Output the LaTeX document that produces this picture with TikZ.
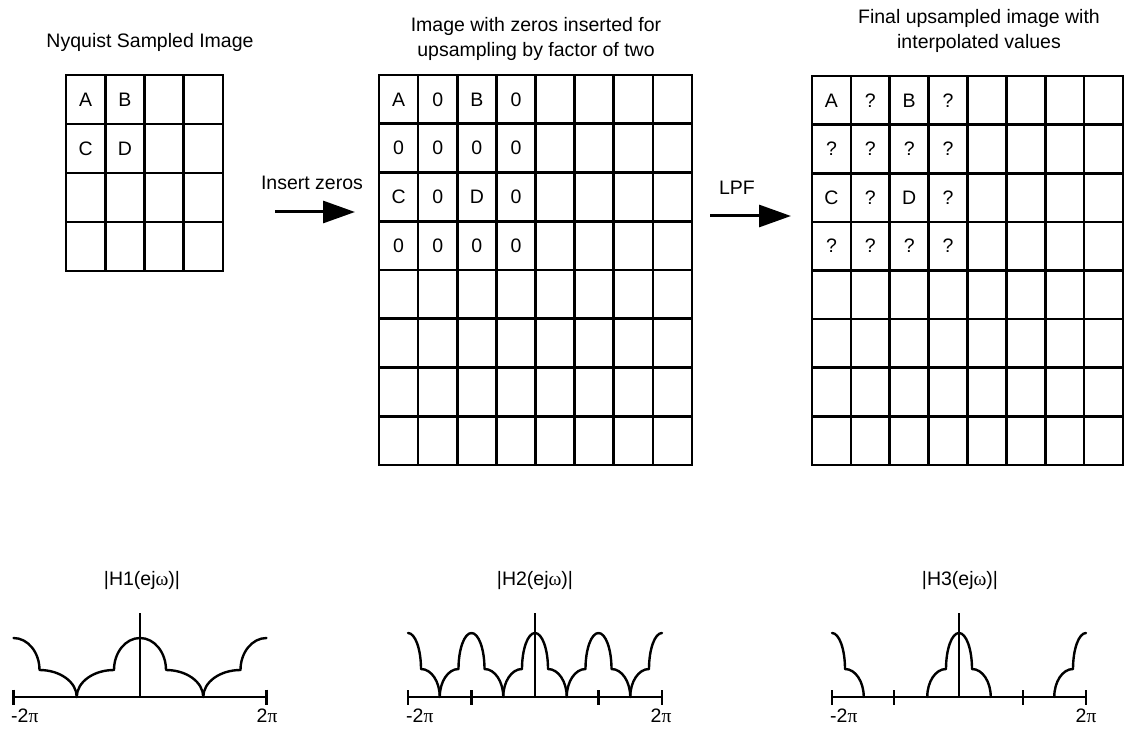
\documentclass[tikz,border=0pt]{standalone}
\usepackage{fontspec}
\setmainfont{Liberation Sans}
\newfontfamily\grk{Liberation Serif}
\usetikzlibrary{arrows.meta}

% half of a response lobe centred at #1, drawn on side #2 (+1 right, -1 left),
% followed by the shoulder that falls to the axis
\def\Kc{0.5523}
\newcommand\lobeside[2]{%
  \draw[curve] ({#1},\Ph)
    .. controls ({#1+(#2)*\Kc*\Pw},\Ph) and ({#1+(#2)*\Pw},{\Ps+\Kc*(\Ph-\Ps)}) .. ({#1+(#2)*\Pw},\Ps)
    .. controls ({#1+(#2)*(\Pw+\Kc*(\Pc-\Pw))},\Ps) and ({#1+(#2)*\Pc},{\Kc*\Ps}) .. ({#1+(#2)*\Pc},0);}

\begin{document}
\begin{tikzpicture}[x=1pt,y=-1pt,
  lbl/.style={font=\fontsize{19.5}{24}\selectfont, inner sep=0pt},
  gridln/.style={line width=2.6pt, line cap=rect},
  bigarrow/.style={line width=3pt, -{Triangle[length=32pt,width=22pt]}},
  curve/.style={line width=2.4pt, line cap=round, line join=round},
  axisln/.style={line width=2.6pt},
  stem/.style={line width=2pt},
]
\useasboundingbox (0,0) rectangle (1125,730);

% ---------- grid 1: 4 x 4 ----------
\foreach \i in {0,...,4} {
  \draw[gridln] ({66+\i*39.25},75) -- ({66+\i*39.25},271);
  \draw[gridln] (66,{75+\i*49}) -- (223,{75+\i*49});
}
\foreach \r/\c/\t in {1/1/A,1/2/B,2/1/C,2/2/D}
  \node[lbl] (g1-\r-\c) at ({66+(\c-0.5)*39.25},{75+(\r-0.5)*49}) {\t};
\node[lbl, anchor=base] (t1) at (150,48) {Nyquist Sampled Image};

% ---------- grid 2: 8 x 8 with zeros ----------
\foreach \i in {0,...,8} {
  \draw[gridln] ({379+\i*39.125},75) -- ({379+\i*39.125},465);
  \draw[gridln] (379,{75+\i*48.75}) -- (692,{75+\i*48.75});
}
\foreach \r/\c/\t in {1/1/A,1/2/0,1/3/B,1/4/0,
                      2/1/0,2/2/0,2/3/0,2/4/0,
                      3/1/C,3/2/0,3/3/D,3/4/0,
                      4/1/0,4/2/0,4/3/0,4/4/0}
  \node[lbl] (g2-\r-\c) at ({379+(\c-0.5)*39.125},{75+(\r-0.5)*48.75}) {\t};
\node[lbl, anchor=base] (t2a) at (536,32) {Image with zeros inserted for};
\node[lbl, anchor=base] (t2b) at (536,57) {upsampling by factor of two};

% ---------- grid 3: 8 x 8 interpolated ----------
\foreach \i in {0,...,8} {
  \draw[gridln] ({812+\i*38.875},76) -- ({812+\i*38.875},465);
  \draw[gridln] (812,{76+\i*48.625}) -- (1123,{76+\i*48.625});
}
\foreach \r/\c/\t in {1/1/A,1/2/?,1/3/B,1/4/?,
                      2/1/?,2/2/?,2/3/?,2/4/?,
                      3/1/C,3/2/?,3/3/D,3/4/?,
                      4/1/?,4/2/?,4/3/?,4/4/?}
  \node[lbl] (g3-\r-\c) at ({812+(\c-0.5)*38.875},{76+(\r-0.5)*48.625}) {\t};
\node[lbl, anchor=base] (t3a) at (979,24) {Final upsampled image with};
\node[lbl, anchor=base] (t3b) at (979,49) {interpolated values};

% ---------- arrows between grids ----------
\coordinate (iz-a) at (275,212);
\coordinate (iz-b) at (355,212);
\draw[bigarrow] (iz-a) -- (iz-b);
\node[lbl, anchor=base] (iz-t) at (312,190) {Insert zeros};

\coordinate (lp-a) at (710,216);
\coordinate (lp-b) at (791,216);
\draw[bigarrow] (lp-a) -- (lp-b);
\node[lbl, anchor=base] (lp-t) at (737,195) {LPF};

% ---------- frequency response 1 ----------
\begin{scope}[shift={(140,697)}, yscale=-1]
  \def\Pw{26}\def\Ps{27}\def\Ph{59}\def\Pc{63.25}
  \coordinate (p1-l) at (-126.5,0);
  \coordinate (p1-r) at (126.5,0);
  \coordinate (p1-o) at (0,0);
  \coordinate (p1-top) at (0,84);
  \draw[axisln] (p1-l) -- (p1-r);
  \draw[axisln] ([yshift=-7.5pt]p1-l) -- ([yshift=7.5pt]p1-l);
  \draw[axisln] ([yshift=-7.5pt]p1-r) -- ([yshift=7.5pt]p1-r);
  \draw[stem] (p1-o) -- (p1-top);
  \lobeside{0}{1}\lobeside{0}{-1}
  \lobeside{-126.5}{1}\lobeside{126.5}{-1}
\end{scope}
\node[lbl, anchor=base] (h1) at (142,585) {|H1(ej{\grk ω})|};
\node[lbl, anchor=base west] (p1-lt) at (11,722) {-2{\grk π}};
\node[lbl, anchor=base] (p1-rt) at (267,722) {2{\grk π}};

% ---------- frequency response 2 ----------
\begin{scope}[shift={(535,697)}, yscale=-1]
  \def\Pw{13}\def\Ps{28}\def\Ph{64}\def\Pc{31.75}
  \coordinate (p2-l) at (-127,0);
  \coordinate (p2-r) at (127,0);
  \coordinate (p2-o) at (0,0);
  \coordinate (p2-top) at (0,84);
  \draw[axisln] (p2-l) -- (p2-r);
  \foreach \t in {-127,-63.5,63.5,127}
    \draw[axisln] (\t,-7.5) -- (\t,7.5);
  \draw[stem] (p2-o) -- (p2-top);
  \foreach \x in {-63.5,0,63.5} {\lobeside{\x}{1}\lobeside{\x}{-1}}
  \lobeside{-127}{1}\lobeside{127}{-1}
\end{scope}
\node[lbl, anchor=base] (h2) at (535,585) {|H2(ej{\grk ω})|};
\node[lbl, anchor=base west] (p2-lt) at (406,722) {-2{\grk π}};
\node[lbl, anchor=base] (p2-rt) at (661,722) {2{\grk π}};

% ---------- frequency response 3 ----------
\begin{scope}[shift={(959,697)}, yscale=-1]
  \def\Pw{13}\def\Ps{28}\def\Ph{64}\def\Pc{31.75}
  \coordinate (p3-l) at (-127,0);
  \coordinate (p3-r) at (127,0);
  \coordinate (p3-o) at (0,0);
  \coordinate (p3-top) at (0,84);
  \draw[axisln] (p3-l) -- (p3-r);
  \foreach \t in {-127,-65,64,127}
    \draw[axisln] (\t,-7.5) -- (\t,7.5);
  \draw[stem] (p3-o) -- (p3-top);
  \lobeside{0}{1}\lobeside{0}{-1}
  \lobeside{-127}{1}\lobeside{127}{-1}
\end{scope}
\node[lbl, anchor=base] (h3) at (960,585) {|H3(ej{\grk ω})|};
\node[lbl, anchor=base west] (p3-lt) at (830,722) {-2{\grk π}};
\node[lbl, anchor=base] (p3-rt) at (1086,722) {2{\grk π}};
\end{tikzpicture}
\end{document}
